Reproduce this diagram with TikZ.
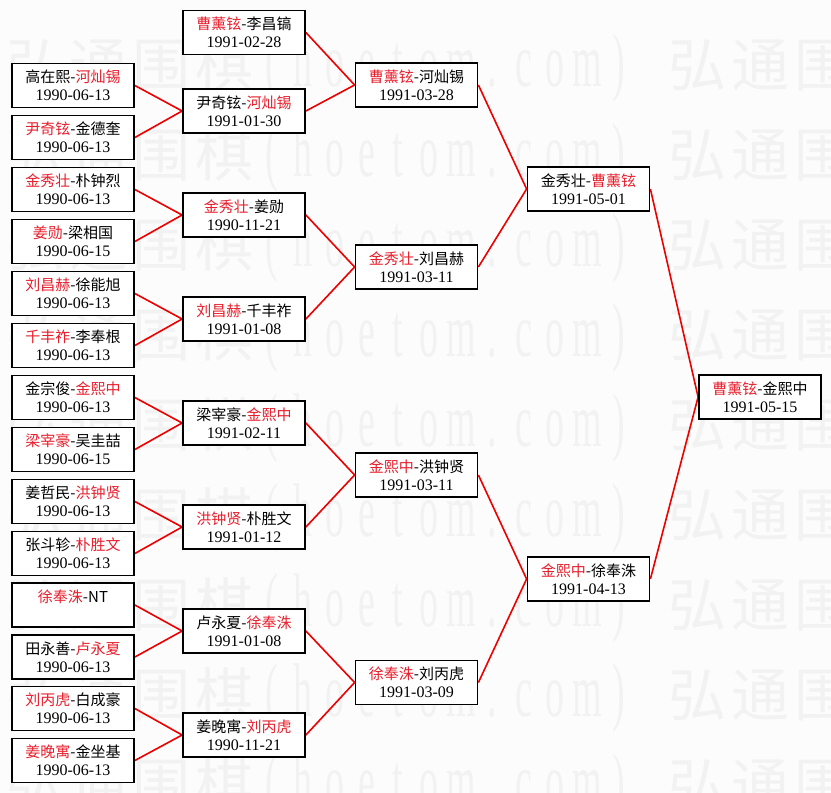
\documentclass[tikz,border=0pt]{standalone}
\usepackage{fontspec}
\usepackage{graphicx}
\setmainfont{Liberation Serif}
\newfontfamily\cjkf{Noto Sans CJK SC}
\newfontfamily\datef{Liberation Serif}
\definecolor{wred}{RGB}{232,30,44}
\definecolor{lred}{RGB}{236,0,0}
\definecolor{bgc}{RGB}{252,252,252}
\definecolor{wmc}{RGB}{242,242,242}
\newcommand\R[1]{\textcolor{wred}{#1}}
\newcommand\dfont{\datef\fontsize{16}{18}\selectfont}
\newcommand\ml[2]{#1\\{\dfont #2}}
\newcommand\wc[1]{\makebox[63pt][c]{\cjkf\fontsize{58}{58}\selectfont #1}}
\newcommand\wl[1]{\makebox[31.5pt][c]{\scalebox{0.5}[1]{\fontsize{76}{76}\selectfont #1}}}
\newcommand\wmunit{\wc{弘}\wc{通}\wc{围}\wc{棋}\wl{(}\wl{h}\wl{o}\wl{e}\wl{t}\wl{o}\wl{m}\wl{.}\wl{c}\wl{o}\wl{m}\wl{)}\wl{\phantom{o}}}
\pgfdeclarelayer{back}
\pgfdeclarelayer{mid}
\pgfsetlayers{back,mid,main}
\tikzset{
  box/.style={draw=black, line width=1.8pt, fill=white, minimum width=122pt,
    minimum height=44pt, inner sep=0pt, align=center,
    font=\cjkf\fontsize{15}{18}\selectfont},
  conn/.style={draw=lred, line width=1.6pt},
  wmark/.style={anchor=west, inner sep=0pt, text=wmc}
}
\begin{document}
\begin{tikzpicture}[x=1pt,y=-1pt]
\useasboundingbox (0,0) rectangle (831,793);
% column 1
\node[box] (a0)  at (73,85.5)  {\ml{高在熙-\R{河灿锡}}{1990-06-13}};
\node[box] (a1)  at (73,137.5) {\ml{\R{尹奇铉}-金德奎}{1990-06-13}};
\node[box] (a2)  at (73,189.5) {\ml{\R{金秀壮}-朴钟烈}{1990-06-13}};
\node[box] (a3)  at (73,241.5) {\ml{\R{姜勋}-梁相国}{1990-06-15}};
\node[box] (a4)  at (73,293.5) {\ml{\R{刘昌赫}-徐能旭}{1990-06-13}};
\node[box] (a5)  at (73,345.5) {\ml{\R{千丰祚}-李奉根}{1990-06-13}};
\node[box] (a6)  at (73,397.5) {\ml{金宗俊-\R{金熙中}}{1990-06-13}};
\node[box] (a7)  at (73,449.5) {\ml{\R{梁宰豪}-吴圭喆}{1990-06-15}};
\node[box] (a8)  at (73,501.5) {\ml{姜哲民-\R{洪钟贤}}{1990-06-13}};
\node[box] (a9)  at (73,553.5) {\ml{张斗轸-\R{朴胜文}}{1990-06-13}};
\node[box] (a10) at (73,605)   {\ml{\R{徐奉洙}-NT}{\phantom{1990-06-13}}};
\node[box] (a11) at (73,657)   {\ml{田永善-\R{卢永夏}}{1990-06-13}};
\node[box] (a12) at (73,708.5) {\ml{\R{刘丙虎}-白成豪}{1990-06-13}};
\node[box] (a13) at (73,760.5) {\ml{\R{姜晚寓}-金坐基}{1990-06-13}};
% column 2
\node[box] (b0) at (244,32.5) {\ml{\R{曹薰铉}-李昌镐}{1991-02-28}};
\node[box] (b1) at (244,111)  {\ml{尹奇铉-\R{河灿锡}}{1991-01-30}};
\node[box] (b2) at (244,215)  {\ml{\R{金秀壮}-姜勋}{1990-11-21}};
\node[box] (b3) at (244,319)  {\ml{\R{刘昌赫}-千丰祚}{1991-01-08}};
\node[box] (b4) at (244,423)  {\ml{梁宰豪-\R{金熙中}}{1991-02-11}};
\node[box] (b5) at (244,527)  {\ml{\R{洪钟贤}-朴胜文}{1991-01-12}};
\node[box] (b6) at (244,631)  {\ml{卢永夏-\R{徐奉洙}}{1991-01-08}};
\node[box] (b7) at (244,735)  {\ml{姜晚寓-\R{刘丙虎}}{1990-11-21}};
% column 3
\node[box] (c0) at (416.5,85)    {\ml{\R{曹薰铉}-河灿锡}{1991-03-28}};
\node[box] (c1) at (416.5,267)   {\ml{\R{金秀壮}-刘昌赫}{1991-03-11}};
\node[box] (c2) at (416.5,475)   {\ml{\R{金熙中}-洪钟贤}{1991-03-11}};
\node[box] (c3) at (416.5,682.5) {\ml{\R{徐奉洙}-刘丙虎}{1991-03-09}};
% column 4
\node[box] (d0) at (588.5,189) {\ml{金秀壮-\R{曹薰铉}}{1991-05-01}};
\node[box] (d1) at (588.5,579) {\ml{\R{金熙中}-徐奉洙}{1991-04-13}};
% column 5
\node[box] (e0) at (760,397) {\ml{\R{曹薰铉}-金熙中}{1991-05-15}};
% connectors
\begin{pgfonlayer}{mid}
\draw[conn] (a0.east) -- (b1.west);
\draw[conn] (a1.east) -- (b1.west);
\draw[conn] (a2.east) -- (b2.west);
\draw[conn] (a3.east) -- (b2.west);
\draw[conn] (a4.east) -- (b3.west);
\draw[conn] (a5.east) -- (b3.west);
\draw[conn] (a6.east) -- (b4.west);
\draw[conn] (a7.east) -- (b4.west);
\draw[conn] (a8.east) -- (b5.west);
\draw[conn] (a9.east) -- (b5.west);
\draw[conn] (a10.east) -- (b6.west);
\draw[conn] (a11.east) -- (b6.west);
\draw[conn] (a12.east) -- (b7.west);
\draw[conn] (a13.east) -- (b7.west);
\draw[conn] (b0.east) -- (c0.west);
\draw[conn] (b1.east) -- (c0.west);
\draw[conn] (b2.east) -- (c1.west);
\draw[conn] (b3.east) -- (c1.west);
\draw[conn] (b4.east) -- (c2.west);
\draw[conn] (b5.east) -- (c2.west);
\draw[conn] (b6.east) -- (c3.west);
\draw[conn] (b7.east) -- (c3.west);
\draw[conn] (c0.east) -- (d0.west);
\draw[conn] (c1.east) -- (d0.west);
\draw[conn] (c2.east) -- (d1.west);
\draw[conn] (c3.east) -- (d1.west);
\draw[conn] (d0.east) -- (e0.west);
\draw[conn] (d1.east) -- (e0.west);
\end{pgfonlayer}
% background and watermark
\begin{pgfonlayer}{back}
\fill[bgc] (0,0) rectangle (831,793);
\begin{scope}
\clip (0,0) rectangle (831,793);
\foreach \k in {0,...,8}{
  \node[wmark] (wm\k) at (-657.5,{68+90*\k}) {\wmunit\wmunit\wmunit};
}
\end{scope}
\end{pgfonlayer}
\end{tikzpicture}
\end{document}
